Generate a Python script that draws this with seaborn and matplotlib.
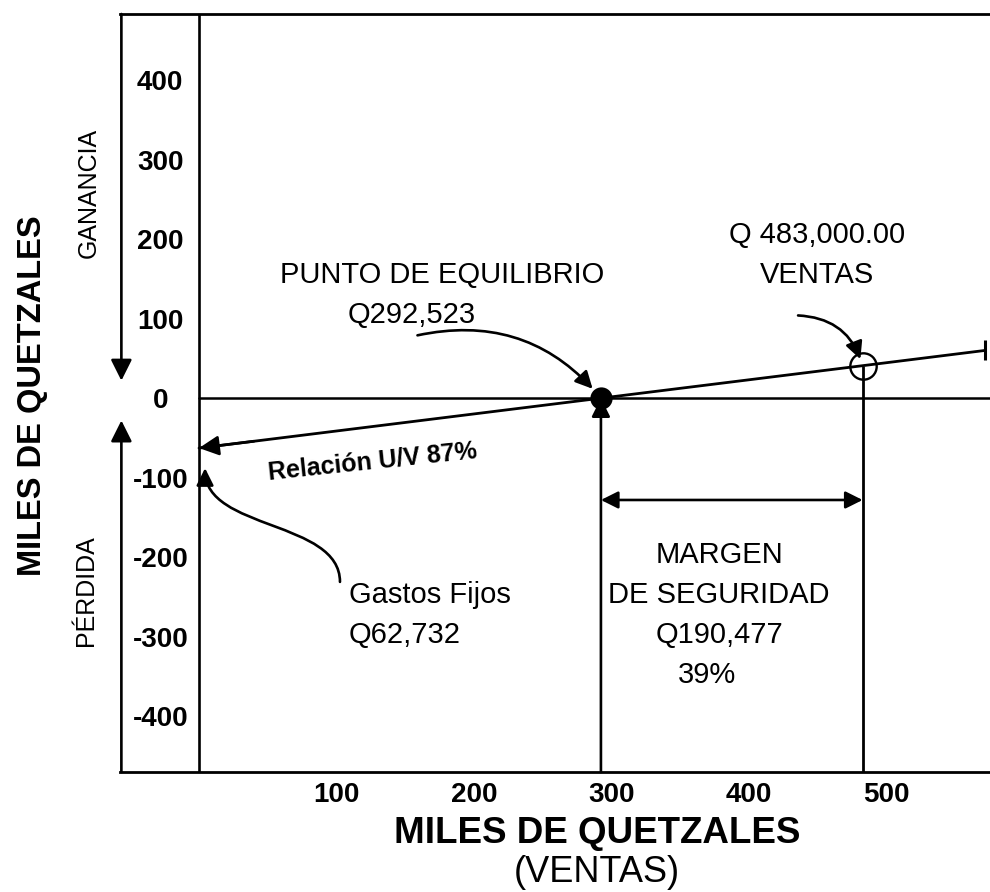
import numpy as np
import matplotlib.pyplot as plt
import seaborn as sns
from matplotlib.patches import FancyArrowPatch
from matplotlib.path import Path

# valores en miles de quetzales
gastos_fijos = 62.732
punto_equilibrio = 292.523
ventas = 483.0

# linea de relacion U/V (ventas vs ganancia)
linea_x = [0.0, 292.523, 483.0, 572.0]
linea_y = [-62.732, 0.0, 40.85, 60.0]

x_ticks = [100, 200, 300, 400, 500]
y_ticks = [-400, -300, -200, -100, 0, 100, 200, 300, 400]

sns.set_theme(style="white")
plt.rcParams['font.family'] = ['Liberation Sans', 'DejaVu Sans']
plt.rcParams['axes.unicode_minus'] = False
plt.rcParams['text.color'] = 'black'
plt.rcParams['axes.labelcolor'] = 'black'

fig = plt.figure(figsize=(9.9, 8.92), dpi=100)
ax = fig.add_axes([120 / 990, 120 / 892, 870 / 990, 758 / 892])
x_lo, x_hi = -57.5, 575.7
y_lo, y_hi = -470, 483
ax.set_xlim(x_lo, x_hi)
ax.set_ylim(y_lo, y_hi)

for side in ['left', 'right']:
    ax.spines[side].set_visible(False)
for side in ['top', 'bottom']:
    ax.spines[side].set_color('black')
    ax.spines[side].set_linewidth(2)

ax.set_xticks(x_ticks)
ax.set_yticks(y_ticks)
ax.tick_params(axis='both', length=0, labelsize=20, colors='black')
ax.tick_params(axis='x', pad=7)
ax.tick_params(axis='y', pad=-29)
for t in ax.yaxis.get_major_ticks() + ax.xaxis.get_major_ticks():
    t.label1.set_fontweight('bold')
for t in ax.yaxis.get_major_ticks():
    t.label1.set_horizontalalignment('center')

# ejes del diagrama
ax.axvline(0, color='black', lw=1.9)
ax.axhline(0, xmin=(0 - x_lo) / (x_hi - x_lo), color='black', lw=1.8)

arrow_kw = dict(arrowstyle='-|>', color='black', lw=1.9, shrinkA=0, shrinkB=0)
# flechas ganancia / perdida
ax.annotate('', xy=(x_lo + 1, 22), xytext=(x_lo + 1, y_hi),
            arrowprops=dict(arrow_kw, mutation_scale=32), annotation_clip=False)
ax.annotate('', xy=(x_lo + 1, -28), xytext=(x_lo + 1, y_lo),
            arrowprops=dict(arrow_kw, mutation_scale=32), annotation_clip=False)

# linea de relacion U/V
sns.lineplot(x=linea_x, y=linea_y, color='black', lw=2, ax=ax)
x_arrow = 40
ax.annotate('', xy=(linea_x[0], linea_y[0]),
            xytext=(x_arrow, np.interp(x_arrow, linea_x, linea_y)),
            arrowprops=dict(arrow_kw, mutation_scale=30))
ax.plot(linea_x[-1], linea_y[-1], marker='|', ms=14, mew=2.2, color='black')

# lineas verticales del punto de equilibrio y ventas
ax.annotate('', xy=(punto_equilibrio, 0), xytext=(punto_equilibrio, y_lo),
            arrowprops=dict(arrow_kw, mutation_scale=28))
y_ventas = np.interp(ventas, linea_x, linea_y)
ax.vlines(ventas, y_lo, y_ventas, color='black', lw=2)

sns.scatterplot(x=[punto_equilibrio], y=[0], s=220, color='black',
                edgecolor='black', ax=ax, zorder=5)
ax.plot(ventas, y_ventas, marker='o', ms=19, mfc='none', mec='black', mew=1.7)

# margen de seguridad
ax.annotate('', xy=(ventas, -128), xytext=(punto_equilibrio, -128),
            arrowprops=dict(arrowstyle='<|-|>', color='black', lw=1.9,
                            shrinkA=0, shrinkB=0, mutation_scale=26))

# flechas curvas
ax.annotate('', xy=(punto_equilibrio, 0), xytext=(159, 79),
            arrowprops=dict(arrowstyle='-|>', color='black', lw=1.9, shrinkA=0,
                            shrinkB=9, mutation_scale=26,
                            connectionstyle='arc3,rad=-0.3'))
ax.annotate('', xy=(ventas, y_ventas), xytext=(436, 104),
            arrowprops=dict(arrowstyle='-|>', color='black', lw=1.9, shrinkA=0,
                            shrinkB=5, mutation_scale=26,
                            connectionstyle='arc3,rad=-0.35'))
verts = [(102.6, -231), (102.6, -153.5), (4.4, -166), (4.4, -88)]
codes = [Path.MOVETO, Path.CURVE4, Path.CURVE4, Path.CURVE4]
ax.add_patch(FancyArrowPatch(path=Path(verts, codes), arrowstyle='-|>',
                             color='black', lw=1.9, mutation_scale=26))

# textos
txt = dict(fontsize=21, color='black', ha='center', va='center')
ax.text(177, 155, 'PUNTO DE EQUILIBRIO', **txt)
ax.text(155, 104, 'Q292,523', **txt)
ax.text(450, 205, 'Q 483,000.00', **txt)
ax.text(449.5, 155, 'VENTAS', **txt)
ax.text(126, -80, 'Relación U/V 87%', fontsize=18, fontweight='bold', color='black',
        rotation=6, rotation_mode='anchor', ha='center', va='center')
ax.text(109, -248, 'Gastos Fijos', fontsize=21, color='black', ha='left', va='center')
ax.text(109, -298, 'Q62,732', fontsize=21, color='black', ha='left', va='center')
ax.text(378.5, -197, 'MARGEN', **txt)
ax.text(378, -248, 'DE SEGURIDAD', **txt)
ax.text(379, -298, 'Q190,477', **txt)
ax.text(370, -348, '39%', **txt)

ax.text(-0.0356, 0.764, 'GANANCIA', transform=ax.transAxes, rotation=90,
        fontsize=18, color='black', ha='center', va='center')
ax.text(-0.039, 0.239, 'PÉRDIDA', transform=ax.transAxes, rotation=90,
        fontsize=18, color='black', ha='center', va='center')

ax.set_xlabel('MILES DE QUETZALES', fontsize=26.5, fontweight='bold', color='black')
ax.xaxis.set_label_coords(0.548, -0.058)
ax.set_ylabel('MILES DE QUETZALES', fontsize=23.5, fontweight='bold', color='black',
              va='center')
ax.yaxis.set_label_coords(-0.101, 0.496)
ax.text(0.548, -0.133, '(VENTAS)', transform=ax.transAxes, ha='center',
        va='center', fontsize=26, color='black')

fig.savefig('out.png', dpi=100, facecolor='white')
